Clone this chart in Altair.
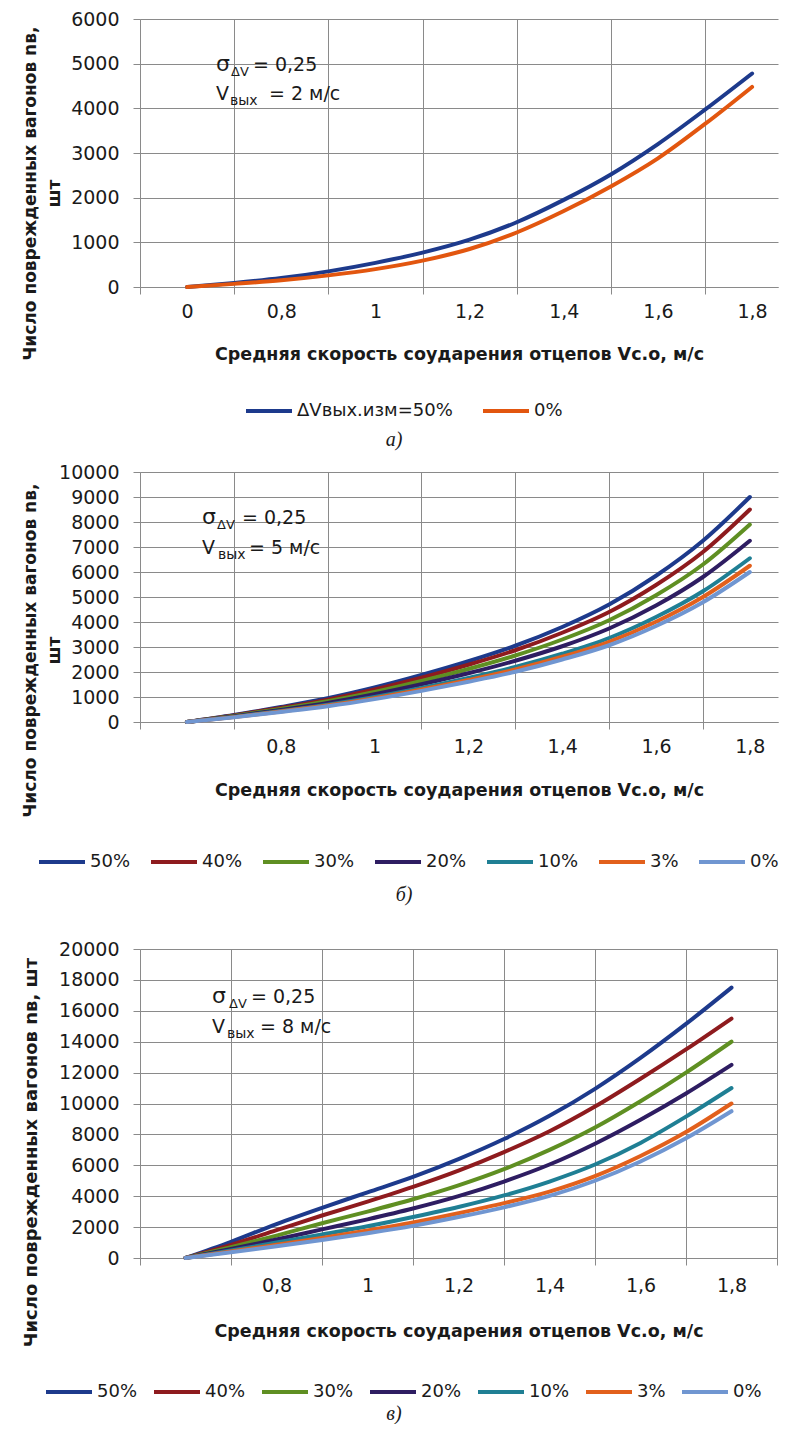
import altair as alt
import pandas as pd

# ---------------- data ----------------
x_vals = [0.6, 0.7, 0.8, 0.9, 1.0, 1.1, 1.2, 1.3, 1.4, 1.5, 1.6, 1.7, 1.8]

# panel a (V_вых = 2 м/с)
a_names = ["ΔVвых.изм=50%", "0%"]
a_50 = [0, 90, 200, 350, 540, 770, 1060, 1450, 1950, 2520, 3200, 3970, 4780]
a_0 = [0, 70, 150, 260, 400, 590, 850, 1220, 1700, 2250, 2880, 3650, 4480]

# panel b (V_вых = 5 м/с)
bc_names = ["50%", "40%", "30%", "20%", "10%", "3%", "0%"]
b_50 = [0, 280, 600, 950, 1380, 1880, 2430, 3050, 3800, 4700, 5850, 7250, 9000]
b_40 = [0, 265, 565, 895, 1300, 1770, 2290, 2870, 3570, 4400, 5480, 6800, 8500]
b_30 = [0, 245, 525, 830, 1200, 1640, 2120, 2660, 3300, 4070, 5070, 6300, 7900]
b_20 = [0, 225, 485, 765, 1110, 1510, 1950, 2450, 3030, 3740, 4660, 5800, 7250]
b_10 = [0, 205, 440, 690, 1000, 1360, 1760, 2200, 2730, 3360, 4200, 5230, 6550]
b_3 = [0, 195, 420, 660, 955, 1300, 1680, 2100, 2610, 3210, 4010, 5000, 6250]
b_0 = [0, 185, 400, 630, 915, 1245, 1610, 2010, 2500, 3070, 3840, 4790, 6000]

# panel c (V_вых = 8 м/с)
c_50 = [0, 1050, 2200, 3250, 4250, 5250, 6400, 7700, 9200, 10950, 12950, 15150, 17500]
c_40 = [0, 850, 1800, 2750, 3650, 4600, 5650, 6850, 8200, 9800, 11600, 13500, 15500]
c_30 = [0, 700, 1450, 2250, 3000, 3800, 4700, 5750, 7000, 8450, 10150, 12000, 14000]
c_20 = [0, 580, 1200, 1850, 2500, 3200, 4000, 4950, 6050, 7400, 8950, 10650, 12500]
c_10 = [0, 480, 1000, 1520, 2050, 2650, 3300, 4050, 4950, 6050, 7450, 9150, 11000]
c_3 = [0, 420, 860, 1300, 1780, 2300, 2900, 3550, 4300, 5300, 6600, 8150, 10000]
c_0 = [0, 370, 760, 1160, 1600, 2080, 2650, 3280, 4020, 5000, 6250, 7750, 9500]

# axes
x_grid = [0.5, 0.7, 0.9, 1.1, 1.3, 1.5, 1.7, 1.9]
x_label_pos = [0.6, 0.8, 1.0, 1.2, 1.4, 1.6, 1.8]
a_xlabels = ["0", "0,8", "1", "1,2", "1,4", "1,6", "1,8"]
bc_xlabels = ["", "0,8", "1", "1,2", "1,4", "1,6", "1,8"]
a_yticks = [0, 1000, 2000, 3000, 4000, 5000, 6000]
b_yticks = [0, 1000, 2000, 3000, 4000, 5000, 6000, 7000, 8000, 9000, 10000]
c_yticks = [0, 2000, 4000, 6000, 8000, 10000, 12000, 14000, 16000, 18000, 20000]

a_colors = ["#1d3a8c", "#e2560f"]
bc_colors = ["#1d3a8c", "#8e1b1e", "#5f8f22", "#2e1d62", "#1f7f94", "#e2601c", "#7096d1"]

y_title_two = ["Число поврежденных вагонов nв,", "шт"]
y_title_one = "Число поврежденных вагонов nв, шт"
x_title = "Средняя скорость соударения отцепов Vс.о, м/с"

# ---------------- styling ----------------
GRID = "#8a8a8a"
FONT = "DejaVu Sans"
SERIF = "Liberation Serif"
TXT = "#1a1a1a"


def long_df(names, series):
    rows = []
    for n, vals in zip(names, series):
        for x, y in zip(x_vals, vals):
            rows.append({"x": x, "y": y, "s": n})
    return pd.DataFrame(rows)


def label_expr(labels):
    expr = "''"
    for v, t in reversed(list(zip(x_label_pos, labels))):
        expr = f"(round(datum.value*10) == {round(v * 10)} ? '{t}' : {expr})"
    return expr


ONE = pd.DataFrame({"k": [0]})


def txt(s, x, y, size, font=FONT, **kw):
    return alt.Chart(ONE).mark_text(
        text=s, font=font, fontSize=size, align="left", baseline="alphabetic",
        color=TXT, **kw
    ).encode(x=alt.value(x), y=alt.value(y))


def panel(names, series, colors, yticks, ymax, W, H, xmax, xlabels, ytitle,
          titleY, ytitle_size, xtitleY, xlabpad, legX, legY, colpad, sw, annot, vout,
          caption, capX, capY):
    odd = "round(datum.value*10) % 2 == 1"
    xvalues = [v for v in sorted(x_grid + x_label_pos) if v <= xmax + 1e-9]
    lines = alt.Chart(long_df(names, series)).mark_line(
        strokeWidth=sw, interpolate="monotone", strokeCap="round", strokeJoin="round"
    ).encode(
        x=alt.X("x:Q",
                scale=alt.Scale(domain=[0.5, xmax], nice=False, zero=False),
                axis=alt.Axis(
                    values=xvalues,
                    labelExpr=label_expr(xlabels),
                    labelFont=FONT, labelFontSize=19, labelColor=TXT,
                    labelPadding=xlabpad, labelFlush=False, labelOverlap=False,
                    tickSize=7, tickColor=GRID,
                    tickOpacity={"condition": {"test": odd, "value": 1}, "value": 0},
                    gridOpacity={"condition": {"test": odd, "value": 1}, "value": 0},
                    gridColor=GRID, domainColor=GRID,
                    title=x_title, titleFont=FONT, titleFontSize=17.5,
                    titleFontWeight="bold", titleColor=TXT, titleY=xtitleY,
                )),
        y=alt.Y("y:Q",
                scale=alt.Scale(domain=[0, ymax], nice=False, zero=True),
                axis=alt.Axis(
                    values=yticks, format="d",
                    labelFont=FONT, labelFontSize=19, labelColor=TXT,
                    labelPadding=14, labelOverlap=False,
                    tickSize=7, tickColor=GRID, domainColor=GRID,
                    gridColor=GRID, gridOpacity=1,
                    title=ytitle, titleFont=FONT, titleFontSize=ytitle_size,
                    titleFontWeight="bold", titleColor=TXT,
                    titleBaseline="top", titleAlign="center",
                    titleX=-118, titleY=titleY, titleLineHeight=24,
                )),
        color=alt.Color("s:N", sort=names,
                        scale=alt.Scale(domain=names, range=colors),
                        legend=alt.Legend(
                            orient="none", legendX=legX, legendY=legY,
                            direction="horizontal", columns=len(names),
                            title=None, symbolType="stroke", symbolSize=2116,
                            symbolStrokeWidth=4, labelFont=FONT, labelFontSize=18,
                            labelColor=TXT, labelLimit=400, labelOffset=3,
                            columnPadding=colpad, padding=0,
                        )),
    )
    sx, sy, sub_dx, eq1_dx, vx_dx, eq2_dx, dy2 = annot
    layers = [
        lines,
        txt("σ", sx, sy, 22),
        txt("ΔV", sx + sub_dx, sy + 5, 13),
        txt("= 0,25", sx + eq1_dx, sy, 19),
        txt("V", sx, sy + dy2, 19),
        txt("вых", sx + vx_dx, sy + dy2 + 5, 14),
        txt(vout, sx + eq2_dx, sy + dy2, 19),
        alt.Chart(ONE).mark_text(text=caption, font=SERIF, fontSize=20,
                                 fontStyle="italic", align="center",
                                 baseline="middle", color=TXT
                                 ).encode(x=alt.value(capX), y=alt.value(capY)),
    ]
    return alt.layer(*layers).properties(width=W, height=H)


pa = panel(a_names, [a_50, a_0], a_colors, a_yticks, 6000, 638, 268, 1.855, a_xlabels,
           y_title_two, 174, 17, 58, 8, 104, 367, 22, 4,
           (76, 52, 15, 37, 14, 53, 29), "= 2 м/с", "а)", 254, 421)
pb = panel(bc_names, [b_50, b_40, b_30, b_20, b_10, b_3, b_0], bc_colors,
           b_yticks, 10000, 638, 250, 1.860, bc_xlabels,
           y_title_two, 178, 17, 59, 8, -103, 365, 12, 4,
           (62, 52, 15, 40, 16, 47, 30), "= 5 м/с", "б)", 264, 423)
pc = panel(bc_names, [c_50, c_40, c_30, c_20, c_10, c_3, c_0], bc_colors,
           c_yticks, 20000, 637, 309, 1.9, bc_xlabels,
           y_title_one, 203, 18, 64, 11, -96, 418, 8, 4,
           (72, 54, 17, 39, 15, 48, 30), "= 8 м/с", "в)", 254, 465)

inner = alt.concat(pa, pb, columns=1, spacing=13, align="none").resolve_scale(
    x="independent", y="independent", color="independent")
chart = alt.concat(inner, pc, columns=1, spacing=35, align="none").resolve_scale(
    x="independent", y="independent", color="independent"
).properties(
    padding={"left": 12, "top": 2, "right": 0, "bottom": 0}
).configure_view(strokeOpacity=0)

chart.save("out.html", embed_options={"renderer": "svg", "actions": False})
